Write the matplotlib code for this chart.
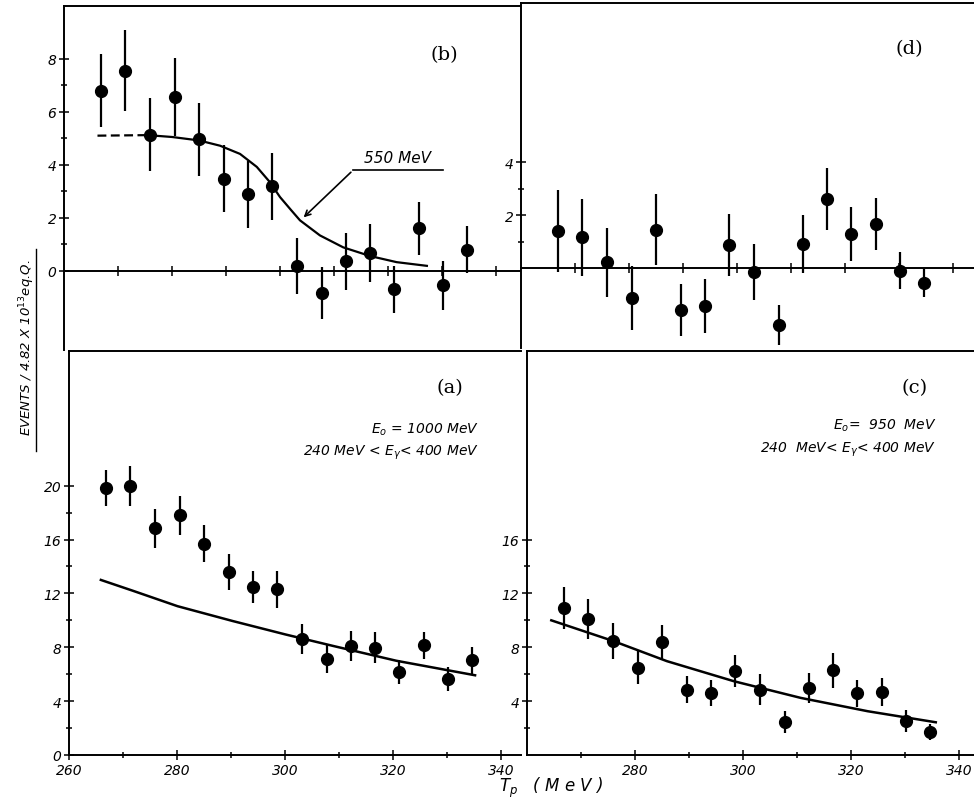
import numpy as np
import matplotlib
matplotlib.use("Agg")
import matplotlib.pyplot as plt
from matplotlib.lines import Line2D

plt.rcParams['font.family'] = ['DejaVu Sans']
plt.rcParams['mathtext.fontset'] = 'dejavusans'

# proton kinetic energy bins (MeV), same for all four panels
tp = [266.8, 271.3, 276.0, 280.6, 285.0, 289.6, 294.1, 298.6,
      303.2, 307.8, 312.3, 316.7, 321.2, 325.7, 330.2, 334.7]

# (b) E0 = 1000 MeV, difference spectrum
b_y = [6.80, 7.56, 5.14, 6.56, 4.96, 3.48, 2.88, 3.18,
       0.19, -0.84, 0.35, 0.66, -0.71, 1.60, -0.56, 0.79]
b_err = [1.38, 1.52, 1.39, 1.47, 1.38, 1.25, 1.26, 1.26,
         1.06, 0.98, 1.08, 1.09, 0.90, 1.01, 0.91, 0.88]
b_dash_x = [266.2, 275.5]
b_dash_y = [5.10, 5.12]
b_fit_x = [275.5, 280.0, 285.0, 288.9, 292.6, 295.7, 298.1, 300.0,
           302.0, 303.7, 307.4, 311.7, 316.7, 321.6, 327.2]
b_fit_y = [5.12, 5.05, 4.92, 4.72, 4.41, 3.92, 3.35, 2.78,
           2.30, 1.90, 1.33, 0.88, 0.55, 0.32, 0.18]

# (d) E0 = 950 MeV, difference spectrum
d_y = [1.42, 1.17, 0.23, -1.11, 1.46, -1.56, -1.41, 0.87,
       -0.13, -2.13, 0.91, 2.60, 1.28, 1.67, -0.09, -0.55]
d_err = [1.55, 1.46, 1.30, 1.20, 1.34, 0.99, 1.01, 1.17,
         1.06, 0.75, 1.09, 1.17, 1.02, 0.99, 0.70, 0.54]

# (a) E0 = 1000 MeV
a_y = [19.85, 19.97, 16.84, 17.80, 15.70, 13.60, 12.50, 12.30,
       8.60, 7.15, 8.10, 7.97, 6.17, 8.14, 5.63, 7.03]
a_err = [1.33, 1.48, 1.45, 1.45, 1.40, 1.35, 1.20, 1.35,
         1.10, 1.05, 1.13, 1.13, 0.90, 1.00, 0.90, 1.00]
a_fit_x = [265.9, 271.8, 280.1, 290.3, 300.1, 308.9, 320.6, 335.2]
a_fit_y = [13.0, 12.2, 11.05, 9.95, 8.95, 8.1, 7.0, 5.92]

# (c) E0 = 950 MeV
c_y = [10.90, 10.10, 8.46, 6.48, 8.39, 4.86, 4.62, 6.23,
       4.86, 2.43, 4.96, 6.28, 4.57, 4.69, 2.50, 1.71]
c_err = [1.55, 1.52, 1.33, 1.24, 1.28, 1.02, 0.97, 1.18,
         1.12, 0.83, 1.10, 1.28, 1.03, 1.06, 0.82, 0.62]
c_fit_x = [264.5, 276.0, 285.9, 298.3, 310.7, 323.1, 335.7]
c_fit_y = [10.0, 8.46, 6.97, 5.48, 4.24, 3.25, 2.43]

W, H = 974, 804
PX_PER_MEV = 5.4
fig = plt.figure(figsize=(W / 100, H / 100), dpi=100)


def panel(left, top, right, bottom):
    # box in pixels -> figure fraction
    ax = fig.add_axes([left / W, 1 - bottom / H, (right - left) / W, (bottom - top) / H])
    ax.set_xlim(260, 260 + (right - left) / PX_PER_MEV)
    ax.spines['right'].set_visible(False)
    for s in ax.spines.values():
        s.set_linewidth(1.4)
    ax.tick_params(which='both', direction='inout', width=1.1, length=7,
                   labelsize=10, pad=2)
    ax.tick_params(which='minor', length=5)
    return ax


def points(ax, y, err):
    ax.errorbar(tp, y, yerr=err, fmt='o', color='black', ms=8.5,
                elinewidth=1.6, capsize=0)


def italic_ticks(ax):
    for lab in ax.get_xticklabels() + ax.get_yticklabels():
        lab.set_fontstyle('italic')


ax_b = panel(64, 7, 521, 351)
ax_d = panel(521, 4, 974, 349)
ax_a = panel(69, 352, 521, 756)
ax_c = panel(527, 352, 974, 756)

# top row: x axis drawn along y = 0
for ax in (ax_b, ax_d):
    ax.set_ylim(-3, 10)
    ax.spines['bottom'].set_position(('data', 0))
    ax.set_xticks(np.arange(270, 341, 10))
    ax.tick_params(axis='x', labelbottom=False)

ax_b.set_yticks([0, 2, 4, 6, 8])
ax_b.set_yticks([1, 3, 5, 7], minor=True)
ax_d.set_yticks([2, 4])
ax_d.set_yticks([1, 3], minor=True)

for ax in (ax_a, ax_c):
    ax.set_ylim(0, 30)
    ax.set_xticks(np.arange(270, 331, 20), minor=True)
    ax.set_yticks(np.arange(2, 19, 4), minor=True)
ax_a.set_xticks(np.arange(260, 341, 20))
ax_a.set_yticks(np.arange(0, 21, 4))
ax_c.set_xticks(np.arange(280, 341, 20))
ax_c.set_yticks(np.arange(4, 17, 4))
ax_c.set_yticks(np.arange(2, 15, 4), minor=True)

for ax in (ax_a, ax_b, ax_c, ax_d):
    italic_ticks(ax)

# (b)
points(ax_b, b_y, b_err)
ax_b.plot(b_dash_x, b_dash_y, color='black', lw=1.6, ls=(0, (4, 2)))
ax_b.plot(b_fit_x, b_fit_y, color='black', lw=1.6)
ax_b.plot([313.5, 330.2], [3.79, 3.79], color='black', lw=1.2)
ax_b.annotate('', xy=(304.0, 1.94), xytext=(313.5, 3.79),
              arrowprops=dict(arrowstyle='->', color='black', lw=1.2))
ax_b.text(321.8, 4.0, '550 MeV', fontsize=11, style='italic', ha='center', va='bottom')
ax_b.text(330.5, 8.2, '(b)', fontsize=14, family='DejaVu Serif', ha='center', va='center')

# (d)
points(ax_d, d_y, d_err)
ax_d.text(331.9, 8.3, '(d)', fontsize=14, family='DejaVu Serif', ha='center', va='center')

# (a)
points(ax_a, a_y, a_err)
ax_a.plot(a_fit_x, a_fit_y, color='black', lw=1.8)
ax_a.text(330.5, 27.3, '(a)', fontsize=14, family='DejaVu Serif', ha='center', va='center')
ax_a.text(336.0, 24.2, r'$E_o$ = 1000 MeV', fontsize=10, style='italic', ha='right', va='center')
ax_a.text(336.0, 22.5, r'240 MeV < $E_\gamma$< 400 MeV', fontsize=10, style='italic',
          ha='right', va='center')

# (c)
points(ax_c, c_y, c_err)
ax_c.plot(c_fit_x, c_fit_y, color='black', lw=1.8)
ax_c.text(331.7, 27.3, '(c)', fontsize=14, family='DejaVu Serif', ha='center', va='center')
ax_c.text(335.8, 24.5, r'$E_o$=  950  MeV', fontsize=10, style='italic', ha='right', va='center')
ax_c.text(335.8, 22.7, r'240  MeV< $E_\gamma$< 400 MeV', fontsize=10, style='italic',
          ha='right', va='center')

# shared axis titles
fig.text(27 / W, 1 - 348 / H, r'EVENTS / 4.82 X 10$^{13}$eq.Q.', rotation=90,
         fontsize=9.5, style='italic', ha='center', va='center')
fig.add_artist(Line2D([36 / W, 36 / W], [1 - 452 / H, 1 - 250 / H], color='black', lw=1.0))
fig.text(551 / W, 1 - 788 / H, r'$T_p$   ( M e V )', fontsize=12, style='italic',
         ha='center', va='center')

fig.savefig('out.png', dpi=100)
